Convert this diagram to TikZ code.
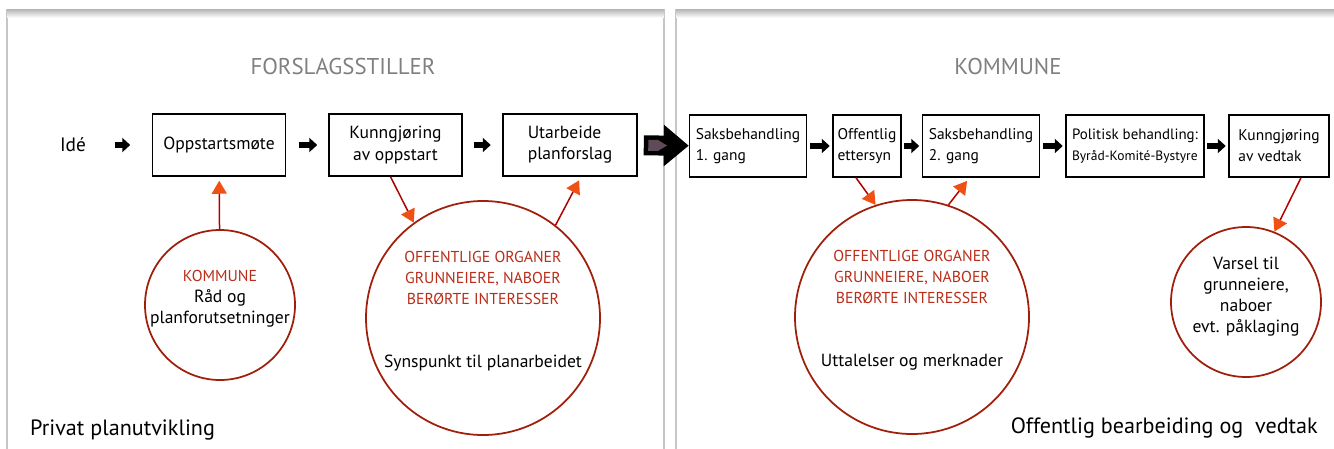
\documentclass[tikz,border=0pt]{standalone}
\usepackage{fontspec}
\setmainfont{PT Sans}
\usetikzlibrary{positioning, arrows.meta, calc}
\definecolor{txtred}{RGB}{185,45,25}
\definecolor{ringred}{RGB}{160,30,10}
\definecolor{tipred}{RGB}{240,80,20}
\definecolor{shaftgray}{RGB}{95,75,88}
\newcommand{\capsred}[1]{\textcolor{txtred}{\fontsize{9}{12}\selectfont #1}}

\begin{document}
\begin{tikzpicture}[x=0.2mm, y=-0.2mm,
			panel/.style={draw=gray!45, line width=0.3mm},
			title/.style={text=gray, font=\fontsize{13}{16}\selectfont},
			footer/.style={font=\fontsize{12.6}{15}\selectfont},
			stepbox/.style={rectangle, draw, line width=0.3mm, minimum height=12.4mm, align=left, inner sep=1mm, font=\fontsize{10}{12}\selectfont},
			smallbox/.style={stepbox, inner xsep=0.8mm, font=\fontsize{8.8}{12}\selectfont},
			ring/.style={circle, draw=ringred, line width=0.35mm, inner sep=0pt},
			ringtxt/.style={align=center, font=\fontsize{10}{12}\selectfont},
			blk/.style={-{Triangle[length=1.6mm,width=2.8mm]}, line width=1.2mm},
			feed/.style={draw=red!70!black, line width=0.3mm, -{Triangle[length=2.6mm,width=3mm,color=tipred]}},
			]
			\useasboundingbox (0,0) rectangle (1334,448);
			
			% Panels
			\draw[panel] (7,10) rectangle (664,470);
			\draw[panel] (676,10) rectangle (1350,470);
			\shade[top color=gray!60, bottom color=gray!5] (7,9) rectangle (664,17);
			\shade[top color=gray!60, bottom color=gray!5] (676,9) rectangle (1350,17);
			\node[title] (forslag) at (343,67) {FORSLAGSSTILLER};
			\node[title] (kommune) at (1008,67) {KOMMUNE};
			\node[footer, anchor=west] (privat) at (24,430) {Privat planutvikling};
			\node[footer, anchor=east] (offentlig) at (1324,428) {Offentlig bearbeiding og\ \ vedtak};
			
			% Nodes
			\node[font=\fontsize{11}{13}\selectfont] (ide) at (73,145) {Idé};
			\node[stepbox, minimum width=26.6mm] (oppstart) at (219,145) {Oppstartsmøte};
			\node[stepbox, minimum width=26.6mm, right=8.4mm of oppstart, align=center] (kunngjor) {Kunngjøring\\av oppstart};
			\node[stepbox, minimum width=26.8mm, right=7.9mm of kunngjor] (utarbeide) {Utarbeide\\planforslag};
			\node[smallbox, minimum width=23.4mm] (saks1) at (748,146) {Saksbehandling\\1. gang};
			\node[smallbox, minimum width=13.6mm] (ettersyn) at (867,146) {Offentlig\\ettersyn};
			\node[smallbox, minimum width=23.4mm] (saks2) at (981,146) {Saksbehandling\\2. gang};
			\node[smallbox, minimum width=27.6mm] (politisk) at (1135,146) {{\fontsize{8.5}{12}\selectfont Politisk behandling:}\\{\fontsize{7.7}{10}\selectfont Byråd-Komité-Bystyre}};
			\node[smallbox, minimum width=20mm] (vedtak) at (1279,146) {Kunngjøring\\av vedtak};
			
			\node[ring, minimum size=30mm] (raad) at (220,305) {};
			\node[ring, minimum size=46.8mm] (innspill) at (483,318) {};
			\node[ring, minimum size=46.8mm] (uttalelse) at (912,317) {};
			\node[ring, minimum size=30mm] (varsel) at (1246,302) {};
			\node[ringtxt] (raadtxt) at ([yshift=1.2mm]raad.center) {\capsred{KOMMUNE}\\Råd og\\planforutsetninger};
			\node[ringtxt] (innspilltxt) at ([yshift=1.3mm]innspill.center) {\capsred{OFFENTLIGE ORGANER}\\\capsred{GRUNNEIERE, NABOER}\\\capsred{BERØRTE INTERESSER}\\[8.4mm]Synspunkt til planarbeidet};
			\node[ringtxt] (uttalelsetxt) at ([yshift=1.3mm]uttalelse.center) {\capsred{OFFENTLIGE ORGANER}\\\capsred{GRUNNEIERE, NABOER}\\\capsred{BERØRTE INTERESSER}\\[8.4mm]Uttalelser og merknader};
			\node[ringtxt] (varseltxt) at ([yshift=1.1mm]varsel.center) {Varsel til\\grunneiere,\\naboer\\evt. påklaging};
			
			% Arrows
			\draw[blk, shorten <=4.5mm, shorten >=4.3mm] (ide) -- (oppstart);
			\draw[blk, shorten <=2.5mm, shorten >=2.2mm] (oppstart) -- (kunngjor);
			\draw[blk, shorten <=2.3mm, shorten >=2.3mm] (kunngjor) -- (utarbeide);
			\foreach \a/\b in {saks1/ettersyn, ettersyn/saks2, saks2/politisk, politisk/vedtak}
				\draw[blk, shorten <=0.5mm, shorten >=0.5mm] (\a) -- (\b);
			\draw[line width=4mm, -{Triangle[length=5mm,width=8mm]}, shorten <=1.2mm] (utarbeide) -- (saks1);
			\draw[line width=2.2mm, draw=shaftgray, -{Triangle[length=2mm,width=2.2mm]}, shorten <=2.1mm, shorten >=4.3mm] (utarbeide) -- (saks1);
			
			\draw[feed, shorten >=0.8mm] (raad) -- (oppstart);
			\draw[feed] ([xshift=-1mm]kunngjor.south) -- (innspill.126);
			\draw[feed, shorten >=0.8mm] (innspill.52) -- ([xshift=2.2mm]utarbeide.south);
			\draw[feed] ([xshift=-2.2mm]ettersyn.south) -- (uttalelse.108);
			\draw[feed, shorten >=0.8mm] (uttalelse.72) -- ([xshift=-2.3mm]saks2.south);
			\draw[feed] ([xshift=4.4mm]vedtak.south) -- (varsel.68);
		\end{tikzpicture}
\end{document}
